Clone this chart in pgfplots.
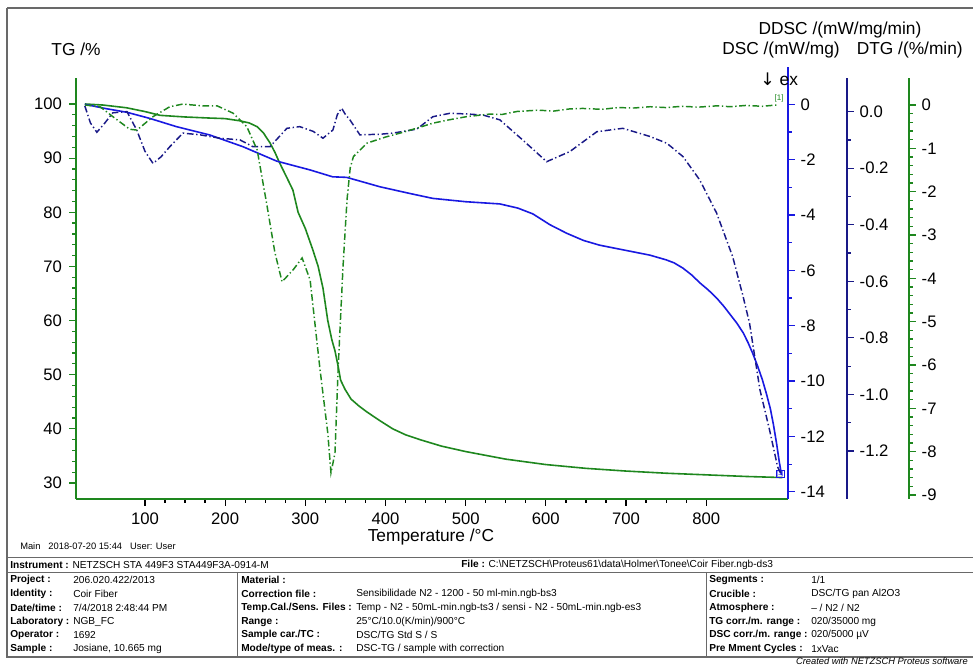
\documentclass[border=0pt]{standalone}
\usepackage{pgfplots}
\pgfplotsset{compat=1.18}
\usepackage{fontspec}
\setmainfont{Liberation Sans}
\newfontfamily\symfont{DejaVu Sans}

\definecolor{tggreen}{RGB}{30,135,30}
\definecolor{dscblue}{RGB}{25,25,225}
\definecolor{ddscnavy}{RGB}{25,25,135}
\definecolor{framegray}{RGB}{105,105,105}

% --- measured curves -------------------------------------------------
\pgfplotstableread{
T TG
25 100.0
48 99.8
77 99.3
100 98.6
119 97.9
150 97.6
181 97.4
200 97.3
218 96.9
230 96.5
240 95.8
248 94.6
256 92.8
262 91.1
268 89.1
276 86.7
284.5 84.1
291 80.0
300 77.0
309.5 73.0
316 70.0
322 66.0
328 60.0
333 56.5
337 54.4
341 51.5
344 49.0
349.5 47.3
357 45.5
367 44.2
377 43.1
392 41.6
409 40.0
425 38.9
443 38.0
470 36.8
500 35.8
550 34.4
600 33.4
650 32.7
700 32.2
750 31.8
800 31.5
850 31.2
895 31.0
}\tgdata

\pgfplotstableread{
T DSC
25 0.0
50 -0.15
77.6 -0.29
106 -0.51
139.5 -0.81
181 -1.11
222 -1.53
264 -2.05
290 -2.25
305.7 -2.37
334 -2.62
351.5 -2.64
365 -2.75
393 -2.98
430 -3.22
459 -3.40
500 -3.52
542.6 -3.60
565 -3.75
583.8 -3.96
605 -4.35
626 -4.66
647 -4.92
667 -5.09
700 -5.28
729.7 -5.45
750 -5.62
760 -5.73
771 -5.92
782 -6.17
792 -6.45
803 -6.72
813 -7.00
822 -7.30
830 -7.60
838 -7.90
846 -8.25
852 -8.60
858 -9.00
864 -9.45
870 -9.95
875 -10.45
880 -11.00
884 -11.60
888 -12.30
891 -12.90
894 -13.40
}\dscdata

\pgfplotstableread{
T DDSC
25 0.02
32 -0.04
40 -0.073
50 -0.04
60 -0.004
77.6 0.0
89.7 -0.065
100 -0.14
110 -0.183
120 -0.16
131 -0.124
147.4 -0.076
168.6 -0.082
193.5 -0.094
218.5 -0.100
234.7 -0.124
256 -0.124
277 -0.059
293 -0.053
310 -0.070
322 -0.094
334.4 -0.065
340 -0.010
345.3 0.012
350 -0.010
355.6 -0.029
368 -0.082
393 -0.080
409 -0.076
439 -0.062
459 -0.018
480 -0.006
500 -0.008
521.5 -0.012
542.6 -0.029
571 -0.100
601 -0.177
630 -0.141
663.6 -0.071
696 -0.059
730 -0.088
751 -0.112
771 -0.159
792 -0.242
813 -0.359
833 -0.513
846 -0.654
854 -0.748
867 -0.984
879 -1.126
889 -1.256
893 -1.280
}\ddscdata

\pgfplotstableread{
T DTG
25 0.0
44 -0.04
60 -0.27
81 -0.56
90 -0.58
110 -0.27
131 -0.04
147 0.02
172 -0.02
190 -0.02
210 -0.19
227 -0.50
240 -1.04
252 -2.30
262 -3.40
271 -4.08
285 -3.80
296 -3.53
306 -4.04
318 -6.05
328 -7.57
332 -8.49
337 -8.03
341 -6.05
347 -3.74
352 -2.19
356 -1.45
360 -1.19
377 -0.88
400 -0.74
418 -0.65
440 -0.53
459 -0.42
480 -0.34
501 -0.27
530 -0.21
545 -0.22
564 -0.15
590 -0.12
610 -0.14
630 -0.09
646 -0.08
670 -0.10
690 -0.06
710 -0.07
730 -0.04
750 -0.06
770 -0.03
790 -0.05
813 -0.02
830 -0.04
850 -0.01
870 -0.03
888 0.00
}\dtgdata

\pgfplotsset{
  every tick label/.append style={font=\fontsize{12.5}{14}\selectfont},
  /pgf/number format/assume math mode=true,
  tick style={line width=0.9pt, solid},
  tickwidth=5pt, subtickwidth=2.8pt,
  plotbox/.style={scale only axis, width=534pt, height=315.75pt,
    xmin=14, xmax=902, anchor=south west, at={(57pt,125.25pt)}},
  dashdot/.style={line width=1.1pt, dash pattern=on 5pt off 2pt on 1pt off 2pt},
  sideaxis/.style={scale only axis, width=8pt, xmin=0, xmax=1,
    anchor=south east, axis y line*=right, hide x axis, tick align=outside},
}

\begin{document}
\begin{tikzpicture}[x=0.75pt, y=0.75pt]
\path[use as bounding box] (0,0) rectangle (973,666);

% TG axis with temperature scale
\begin{axis}[plotbox,
  ymin=27.04, ymax=104.8,
  axis x line*=bottom, axis y line*=left,
  tick align=outside,
  xtick={100,200,...,800}, minor x tick num=3,
  ytick={30,40,...,100}, minor y tick num=4,
  x axis line style={tggreen, line width=0.9pt, -},
  y axis line style={tggreen, line width=0.9pt, -},
  y tick style={tggreen}, x tick style={black},
  xticklabel style={yshift=-2pt},
  yticklabel style={xshift=-2pt},
]
\addplot[tggreen, line width=1.2pt] table[x=T, y=TG] {\tgdata};
\end{axis}

% DSC
\begin{axis}[plotbox, hide axis, ymin=-14.26, ymax=0.95]
\addplot[dscblue, line width=1.2pt] table[x=T, y=DSC] {\dscdata};
\node[draw=dscblue, line width=0.4pt, inner sep=0.6pt, font=\fontsize{4.5}{5}\selectfont, text=dscblue]
  at (axis cs:892,-13.35) {[3]};
\end{axis}

% DDSC
\begin{axis}[plotbox, hide axis, ymin=-1.370, ymax=0.119]
\addplot[ddscnavy, dashdot] table[x=T, y=DDSC] {\ddscdata};
\end{axis}

% DTG
\begin{axis}[plotbox, hide axis, ymin=-9.093, ymax=0.623]
\addplot[tggreen, dashdot] table[x=T, y=DTG] {\dtgdata};
\node[font=\fontsize{6}{7}\selectfont, text=tggreen] at (axis cs:891,0.15) {[1]};
\end{axis}

% right-hand scales
\begin{axis}[sideaxis, at={(591pt,125.25pt)}, height=324pt,
  ymin=-14.26, ymax=1.348,
  ytick={-14,-12,...,0}, minor y tick num=1,
  y axis line style={dscblue, line width=0.9pt, -},
  y tick style={dscblue},
  yticklabel style={xshift=1pt}]
\end{axis}
\begin{axis}[sideaxis, at={(635.25pt,125.25pt)}, height=315.75pt,
  ymin=-1.370, ymax=0.119,
  ytick={-1.2,-1.0,...,0.0}, minor y tick num=1,
  y axis line style={ddscnavy, line width=0.9pt, -},
  y tick style={ddscnavy},
  yticklabel style={xshift=1pt, /pgf/number format/.cd, fixed, fixed zerofill, precision=1}]
\end{axis}
\begin{axis}[sideaxis, at={(681.75pt,125.25pt)}, height=315.75pt,
  ymin=-9.093, ymax=0.623,
  ytick={-9,-8,...,0}, minor y tick num=4,
  y axis line style={tggreen, line width=0.9pt, -},
  y tick style={tggreen},
  yticklabel style={xshift=1pt}]
\end{axis}

% titles
\begin{scope}[every node/.style={font=\fontsize{13}{15}\selectfont, inner sep=0pt}]
\node at (76,617) {TG /\%};
\node at (840,636) {DDSC /(mW/mg/min)};
\node[anchor=west] at (722,616) {DSC /(mW/mg)};
\node[anchor=east] at (963,616) {DTG /(\%/min)};
\node at (431,129) {Temperature /°C};
\node[anchor=west] at (760,587) {{\symfont ↓} ex};
\end{scope}

% report frame and table
\draw[framegray, line width=0.8pt] (7,658) -- (973,658);
\draw[framegray, line width=0.8pt] (7,658) -- (7,9) -- (973,9);
\draw[framegray, line width=0.6pt] (7,109) -- (973,109);
\draw[framegray, line width=0.6pt] (7,94) -- (973,94);
\draw[framegray, line width=0.6pt] (237,94) -- (237,9);
\draw[framegray, line width=0.6pt] (706,94) -- (706,9);

\node[anchor=west, inner sep=0pt, font=\fontsize{7}{8}\selectfont] at (20,120)
  {Main\hspace{6pt}2018-07-20 15:44\hspace{6pt}User: User};

\begin{scope}[every node/.style={anchor=west, inner sep=0pt, font=\fontsize{7.6}{9}\selectfont}]
\node at (10,101) {\textbf{Instrument :} NETZSCH STA 449F3 STA449F3A-0914-M};
\node at (461,101) {\textbf{File :} C:\textbackslash NETZSCH\textbackslash Proteus61\textbackslash data\textbackslash Holmer\textbackslash Tonee\textbackslash Coir Fiber.ngb-ds3};
% column 1
\node at (10,86) {\textbf{Project :}};      \node at (73,86) {206.020.422/2013};
\node at (10,72) {\textbf{Identity :}};     \node at (73,72) {Coir Fiber};
\node at (10,58) {\textbf{Date/time :}};    \node at (73,58) {7/4/2018 2:48:44 PM};
\node at (10,44) {\textbf{Laboratory :}};   \node at (73,44) {NGB\_FC};
\node at (10,31) {\textbf{Operator :}};     \node at (73,31) {1692};
\node at (10,17) {\textbf{Sample :}};       \node at (73,17) {Josiane, 10.665 mg};
% column 2
\node at (241,86) {\textbf{Material :}};
\node at (241,72) {\textbf{Correction file :}};         \node at (356,72) {Sensibilidade N2 - 1200 - 50 ml-min.ngb-bs3};
\node at (241,58) {\textbf{Temp.Cal./Sens. Files :}};   \node at (356,58) {Temp - N2 - 50mL-min.ngb-ts3 / sensi - N2 - 50mL-min.ngb-es3};
\node at (241,44) {\textbf{Range :}};                   \node at (356,44) {25°C/10.0(K/min)/900°C};
\node at (241,31) {\textbf{Sample car./TC :}};          \node at (356,31) {DSC/TG Std S / S};
\node at (241,17) {\textbf{Mode/type of meas. :}};      \node at (356,17) {DSC-TG / sample with correction};
% column 3
\node at (709,86) {\textbf{Segments :}};              \node at (811,86) {1/1};
\node at (709,72) {\textbf{Crucible :}};              \node at (811,72) {DSC/TG pan Al2O3};
\node at (709,58) {\textbf{Atmosphere :}};            \node at (811,58) {-- / N2 / N2};
\node at (709,44) {\textbf{TG corr./m. range :}};     \node at (811,44) {020/35000 mg};
\node at (709,31) {\textbf{DSC corr./m. range :}};    \node at (811,31) {020/5000 µV};
\node at (709,17) {\textbf{Pre Mment Cycles :}};      \node at (811,17) {1xVac};
\end{scope}
\node[anchor=east, inner sep=0pt, font=\fontsize{7}{8}\selectfont\itshape] at (968,5)
  {Created with NETZSCH Proteus software};
\end{tikzpicture}
\end{document}
